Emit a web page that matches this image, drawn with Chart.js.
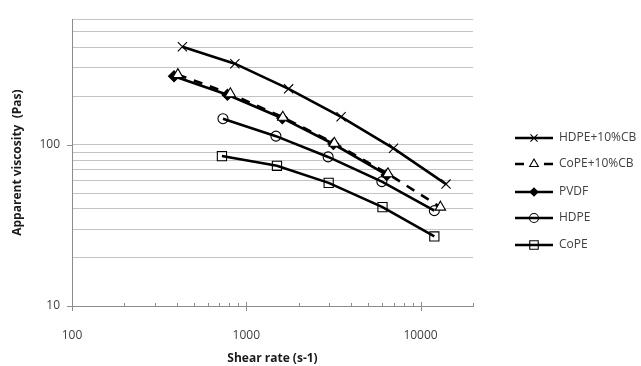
<!DOCTYPE html>
<html>
<head>
<meta charset="utf-8">
<script src="https://cdn.jsdelivr.net/npm/chart.js@4/dist/chart.umd.min.js"></script>
<style>
  html, body { margin: 0; padding: 0; background: #ffffff; }
  #wrap { width: 641px; height: 366px; }
</style>
</head>
<body>
<div id="wrap"><canvas id="c" width="641" height="366"></canvas></div>
<script>
// Shear rate (s-1) and apparent viscosity (Pas) for each material
const hdpeCbRate  = [430, 860, 1750, 3500, 7000, 14000];
const hdpeCbVisc  = [405, 318, 222, 149, 95, 57];
const copeCbRate  = [405, 810, 1620, 3200, 6500, 13000];
const copeCbVisc  = [272, 207, 148, 102, 66, 41];
const pvdfRate    = [385, 780, 1610, 3160, 6400];
const pvdfVisc    = [266, 204, 146, 101, 65];
const hdpeRate    = [735, 1480, 2950, 6000, 12000];
const hdpeVisc    = [145, 113, 84, 59, 39];
const copeRate    = [725, 1500, 2970, 6050, 12000];
const copeVisc    = [85, 74, 58, 41, 27];

const seriesNames = ['HDPE+10%CB', 'CoPE+10%CB', 'PVDF', 'HDPE', 'CoPE'];

// Axis ticks
const xLabelTicks = [100, 1000, 10000];
const xMinorTicks = [200, 300, 400, 500, 600, 700, 800, 900,
                     2000, 3000, 4000, 5000, 6000, 7000, 8000, 9000, 20000];
const yGridTicks  = [10, 20, 30, 40, 50, 60, 70, 80, 90, 100, 200, 300, 400, 500, 600];
const yLabelTicks = [10, 100];

const FONT = "'Open Sans', 'Liberation Sans', sans-serif";
const INK = '#000000';

function pts(xs, ys) { return xs.map((x, i) => ({ x: x, y: ys[i] })); }

function series(label, xs, ys, style, radius, fill, dash, legendRadius) {
  return {
    label: label,
    data: pts(xs, ys),
    borderColor: INK,
    borderWidth: 2.6,
    borderDash: dash || [],
    pointStyle: style,
    pointRadius: radius,
    pointHoverRadius: radius,
    pointBorderWidth: 1.1,
    pointBorderColor: INK,
    pointBackgroundColor: fill,
    legendRadius: legendRadius,
    showLine: true,
    tension: 0,
    fill: false
  };
}

const datasets = [
  series(seriesNames[0], hdpeCbRate, hdpeCbVisc, 'crossRot', 6.5, INK, null, 5),
  series(seriesNames[1], copeCbRate, copeCbVisc, 'triangle', 6, '#ffffff', [9, 8], 5),
  series(seriesNames[2], pvdfRate, pvdfVisc, 'rectRot', 5.5, INK, null, 4),
  series(seriesNames[3], hdpeRate, hdpeVisc, 'circle', 5, 'rgba(255,255,255,0)', null, 4.5),
  series(seriesNames[4], copeRate, copeVisc, 'rect', 6.5, 'rgba(255,255,255,0)', null, 6)
];

// Axis tick marks (major crossing ticks, minor ticks above the axis line)
const tickMarks = {
  id: 'tickMarks',
  afterDatasetsDraw(chart) {
    const ctx = chart.ctx;
    const xs = chart.scales.x, ys = chart.scales.y;
    const area = chart.chartArea;
    ctx.save();
    ctx.strokeStyle = '#8c8c8c';
    ctx.lineWidth = 1;
    ctx.beginPath();
    xLabelTicks.forEach(v => {
      const px = Math.round(xs.getPixelForValue(v)) + 0.5;
      ctx.moveTo(px, area.bottom - 4);
      ctx.lineTo(px, area.bottom + 5);
    });
    xMinorTicks.forEach(v => {
      const px = Math.round(xs.getPixelForValue(v)) + 0.5;
      ctx.moveTo(px, area.bottom - 3);
      ctx.lineTo(px, area.bottom);
    });
    yLabelTicks.forEach(v => {
      const py = Math.round(ys.getPixelForValue(v)) + 0.5;
      ctx.moveTo(area.left - 5, py);
      ctx.lineTo(area.left, py);
    });
    ctx.stroke();
    ctx.restore();
  }
};

// Legend at the right: short line sample with its marker, then the name
const sideLegend = {
  id: 'sideLegend',
  afterDraw(chart) {
    const ctx = chart.ctx;
    const x0 = 515, x1 = 553, tx = 559;
    const rows = [138, 164, 192, 218, 245];
    ctx.save();
    chart.data.datasets.forEach((ds, i) => {
      const y = rows[i];
      ctx.strokeStyle = INK;
      ctx.lineWidth = 2.6;
      ctx.setLineDash([]);
      ctx.beginPath();
      if (ds.borderDash && ds.borderDash.length) {
        ctx.moveTo(x0, y); ctx.lineTo(x0 + 9, y);
        ctx.moveTo(x1 - 9, y); ctx.lineTo(x1, y);
      } else {
        ctx.moveTo(x0, y); ctx.lineTo(x1, y);
      }
      ctx.stroke();
      const mx = (x0 + x1) / 2;
      ctx.lineWidth = 1.1;
      ctx.strokeStyle = INK;
      ctx.fillStyle = ds.pointBackgroundColor === INK ? INK : '#ffffff';
      if (ds.pointStyle === 'circle' || ds.pointStyle === 'rect') {
        ctx.fillStyle = 'rgba(255,255,255,0)';
      }
      Chart.helpers.drawPoint(ctx, {
        pointStyle: ds.pointStyle,
        rotation: 0,
        radius: ds.legendRadius,
        borderWidth: 1.1
      }, mx, y);
      ctx.fillStyle = '#404040';
      ctx.font = '12px ' + FONT;
      ctx.textBaseline = 'middle';
      ctx.textAlign = 'left';
      ctx.fillText(ds.label, tx, y);
    });
    ctx.restore();
  }
};

new Chart(document.getElementById('c'), {
  type: 'scatter',
  data: { datasets: datasets },
  plugins: [tickMarks, sideLegend],
  options: {
    responsive: false,
    animation: false,
    devicePixelRatio: 1,
    layout: { padding: { top: 14, right: 168, left: 0, bottom: 0 } },
    plugins: {
      legend: { display: false },
      tooltip: { enabled: false }
    },
    scales: {
      x: {
        type: 'logarithmic',
        min: 100,
        max: 20000,
        afterBuildTicks: s => { s.ticks = xLabelTicks.map(v => ({ value: v })); },
        afterFit: s => { s.height = 60; },
        grid: { display: false },
        border: { display: true, color: '#8c8c8c', width: 1 },
        ticks: {
          padding: 14,
          color: '#404040',
          font: { family: FONT, size: 12 },
          maxRotation: 0,
          autoSkip: false,
          callback: v => String(v)
        },
        title: {
          display: true,
          text: 'Shear rate (s-1)',
          color: '#1a1a1a',
          font: { family: FONT, size: 12, weight: 'bold' },
          padding: { top: 0, bottom: 0 }
        }
      },
      y: {
        type: 'logarithmic',
        min: 10,
        max: 600,
        afterBuildTicks: s => { s.ticks = yGridTicks.map(v => ({ value: v })); },
        afterFit: s => { s.width = 72; },
        grid: { color: '#c4c4c4', lineWidth: 1, drawTicks: false },
        border: { display: true, color: '#8c8c8c', width: 1 },
        ticks: {
          padding: 12,
          color: '#404040',
          font: { family: FONT, size: 12 },
          autoSkip: false,
          callback: v => (yLabelTicks.includes(v) ? String(v) : '')
        },
        title: {
          display: true,
          text: 'Apparent viscosity  (Pas)',
          color: '#1a1a1a',
          font: { family: FONT, size: 12, weight: 'bold' },
          padding: { top: 10, bottom: 0 }
        }
      }
    }
  }
});
</script>
</body>
</html>
